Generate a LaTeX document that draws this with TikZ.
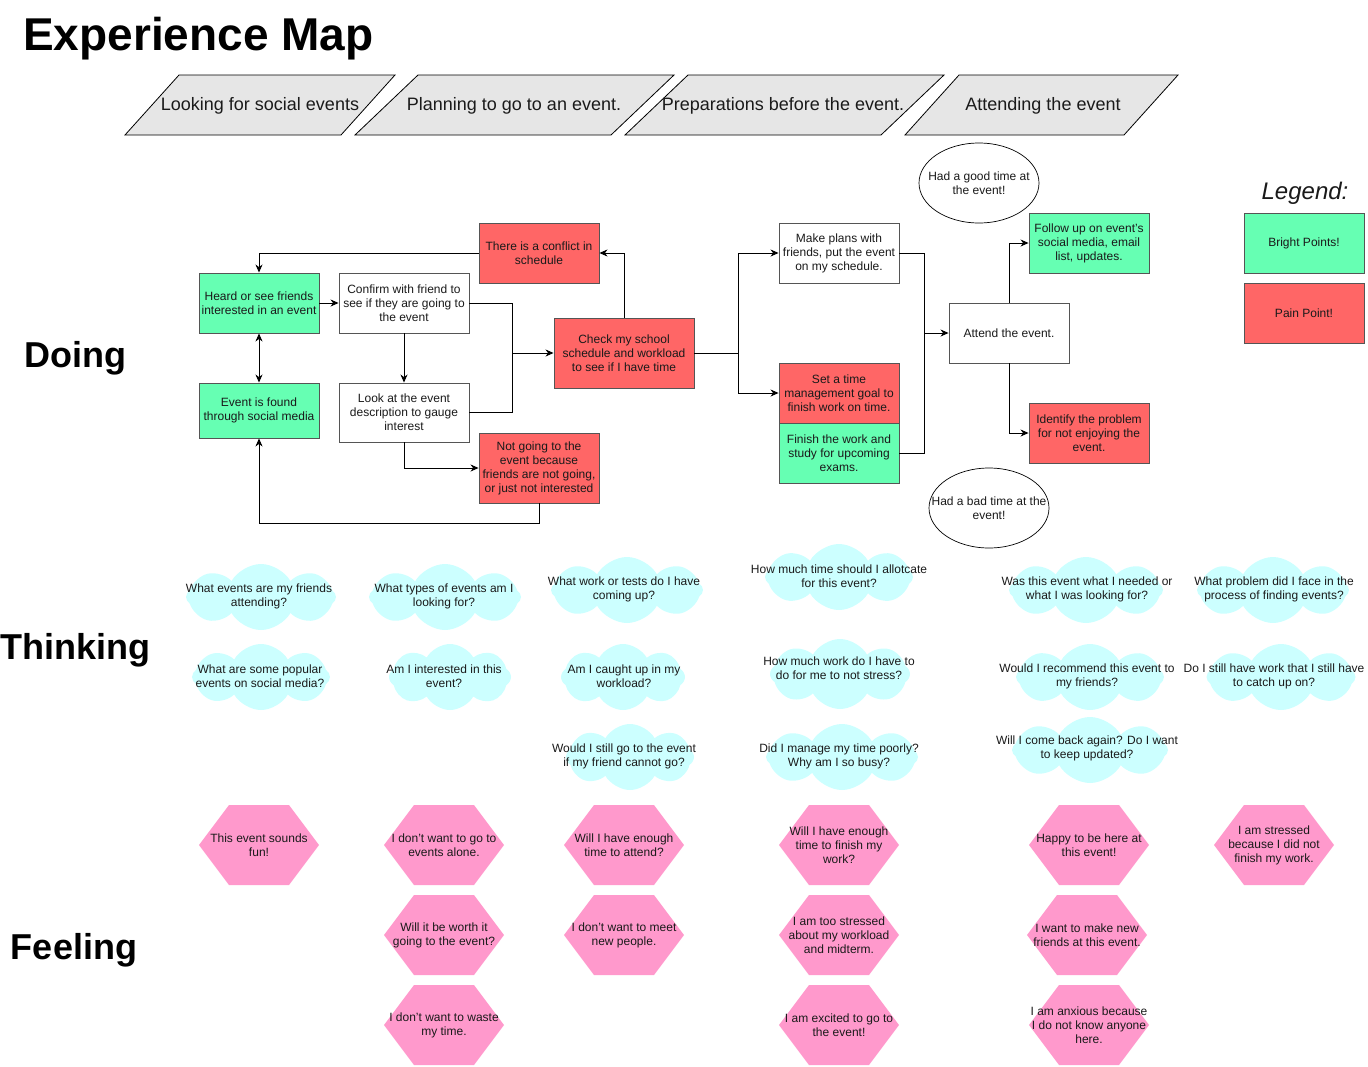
\documentclass[tikz,border=0pt]{standalone}
\usepackage{fontspec}
\setmainfont{Liberation Sans}
\usetikzlibrary{arrows.meta,shapes.geometric,shapes.symbols}
\definecolor{bgreen}{HTML}{66FFB3}
\definecolor{pred}{HTML}{FF6666}
\definecolor{phgray}{HTML}{E6E6E6}
\definecolor{cloudc}{HTML}{CCFFFF}
\definecolor{hexpink}{HTML}{FF99CC}
\definecolor{bord}{HTML}{555555}
\definecolor{txt}{HTML}{1A1A1A}
\tikzset{
  basebox/.style={rectangle, draw=bord, line width=0.9pt, inner sep=1pt, align=center,
    text=txt, font=\fontsize{12}{14}\selectfont, minimum width=120pt, minimum height=60pt},
  boxw/.style={basebox, fill=white},
  boxg/.style={basebox, fill=bgreen},
  boxr/.style={basebox, fill=pred},
  ell/.style={ellipse, draw=black, line width=0.7pt, inner sep=0pt,
    minimum width=120pt, minimum height=80pt},
  plaintext/.style={align=center, text=txt, inner sep=0pt, font=\fontsize{12}{14}\selectfont},
  phase/.style={draw=black, line width=0.8pt, fill=phgray},
  phasetext/.style={font=\fontsize{18}{21}\selectfont, text=txt},
  heading/.style={font=\fontsize{36}{40}\selectfont\bfseries, text=black},
  conn/.style={draw=black, line width=0.9pt, -{Stealth[length=8pt,width=7pt,inset=2.5pt]}},
  connb/.style={draw=black, line width=0.9pt, {Stealth[length=8pt,width=7pt,inset=2.5pt]}-{Stealth[length=8pt,width=7pt,inset=2.5pt]}},
  plain/.style={draw=black, line width=0.9pt},
  thinkcloud/.style={cloud, cloud puffs=8, cloud puff arc=120, cloud ignores aspect,
    fill=cloudc, draw=none, inner sep=0pt},
  feelhex/.style={rectangle, fill=white, inner sep=0pt, align=center, text=txt,
    font=\fontsize{12}{14}\selectfont, minimum width=120pt, minimum height=80pt,
    path picture={\fill[hexpink] (path picture bounding box.west)
      -- ([xshift=30pt]path picture bounding box.north west)
      -- ([xshift=-30pt]path picture bounding box.north east)
      -- (path picture bounding box.east)
      -- ([xshift=-30pt]path picture bounding box.south east)
      -- ([xshift=30pt]path picture bounding box.south west) -- cycle;}}
}
\begin{document}
\begin{tikzpicture}[x=1pt,y=-1pt]
\useasboundingbox (0,0) rectangle (1368,1066);
\fill[white] (0,0) rectangle (1368,1066);

% title
\node[anchor=base west, inner sep=0pt, font=\fontsize{46}{52}\selectfont\bfseries] (title) at (23,50) {Experience Map};

% phases
\draw[phase] (125,135) -- (179,75) -- (395,75) -- (341,135) -- cycle;
\node[phasetext] (p1) at (260,106) {Looking for social events};
\draw[phase] (355,135) -- (418,75) -- (674,75) -- (611,135) -- cycle;
\node[phasetext] (p2) at (514,106) {Planning to go to an event.};
\draw[phase] (625,135) -- (688,75) -- (944,75) -- (881,135) -- cycle;
\node[phasetext] (p3) at (783,106) {Preparations before the event.};
\draw[phase] (905,135) -- (959,75) -- (1178,75) -- (1124,135) -- cycle;
\node[phasetext] (p4) at (1043,106) {Attending the event};

% row headings
\node[heading] (doing) at (75,358) {Doing};
\node[heading] (thinking) at (75,650) {Thinking};
\node[heading] (feeling) at (74,950) {Feeling};

% doing boxes
\node[boxg] (heard) at (259,303) {Heard or see friends\\interested in an event};
\node[boxg, minimum height=55pt] (found) at (259,410.5) {Event is found\\through social media};
\node[boxw, minimum width=130pt] (confirm) at (404,303) {Confirm with friend to\\see if they are going to\\the event};
\node[boxw, minimum width=130pt, minimum height=59pt] (look) at (404,412.5) {Look at the event\\description to gauge\\interest};
\node[boxr] (conflict) at (539,253) {There is a conflict in\\schedule};
\node[boxr, minimum height=70pt] (notgo) at (539,468) {Not going to the\\event because\\friends are not going,\\or just not interested};
\node[boxr, minimum width=140pt, minimum height=70pt] (check) at (624,353) {Check my school\\schedule and workload\\to see if I have time};
\node[boxw] (plans) at (839,253) {Make plans with\\friends, put the event\\on my schedule.};
\node[boxr] (settime) at (839,393) {Set a time\\management goal to\\finish work on time.};
\node[boxg] (finish) at (839,453) {Finish the work and\\study for upcoming\\exams.};
\node[boxw] (attend) at (1009,333) {Attend the event.};
\node[boxg] (follow) at (1089,243) {Follow up on event's\\social media, email\\list, updates.};
\node[boxr] (identify) at (1089,433) {Identify the problem\\for not enjoying the\\event.};
\node[ell] (good) at (979,183) {};
\node[plaintext] (goodt) at (979,183) {Had a good time at\\the event!};
\node[ell] (bad) at (989,508) {};
\node[plaintext] (badt) at (989,508) {Had a bad time at the\\event!};

% legend
\node[font=\fontsize{24}{28}\selectfont\itshape, text=txt] (legend) at (1305,193) {Legend:};
\node[boxg] (lgreen) at (1304,243) {Bright Points!};
\node[boxr] (lred) at (1304,313) {Pain Point!};

% connectors
\coordinate (jA) at (512,353);
\coordinate (jB) at (738,353);
\coordinate (jC) at (924,333);
\draw[conn] (conflict.west) -| (heard.north);
\draw[connb] (heard.south) -- (found.north);
\draw[conn] (heard.east) -- (confirm.west);
\draw[plain] (confirm.east) -| (jA);
\draw[plain] (look.east) -| (jA);
\draw[conn] (jA) -- (check.west);
\draw[conn] (confirm.south) -- (look.north);
\draw[conn] (look.south) |- (notgo.west);
\draw[conn] (notgo.south) -- ++(0,20) -| (found.south);
\draw[conn] (check.north) |- (conflict.east);
\draw[plain] (check.east) -- (jB);
\draw[conn] (jB) |- (plans.west);
\draw[conn] (jB) |- (settime.west);
\draw[plain] (plans.east) -| (jC);
\draw[plain] (finish.east) -| (jC);
\draw[conn] (jC) -- (attend.west);
\draw[conn] (attend.north) |- (follow.west);
\draw[conn] (attend.south) |- (identify.west);

% thinking clouds (shapes)
\node[thinkcloud, minimum width=150pt, minimum height=66pt] (c1) at (261,597) {};
\node[thinkcloud, minimum width=152pt, minimum height=66pt] (c2) at (445,597) {};
\node[thinkcloud, minimum width=152pt, minimum height=66pt] (c3) at (627,590) {};
\node[thinkcloud, minimum width=148pt, minimum height=66pt] (c4) at (839,577) {};
\node[thinkcloud, minimum width=154pt, minimum height=66pt] (c5) at (1086,590) {};
\node[thinkcloud, minimum width=152pt, minimum height=66pt] (c6) at (1273,590) {};
\node[thinkcloud, minimum width=138pt, minimum height=66pt] (c7) at (261,677) {};
\node[thinkcloud, minimum width=122pt, minimum height=66pt] (c8) at (450,677) {};
\node[thinkcloud, minimum width=124pt, minimum height=66pt] (c9) at (623,677) {};
\node[thinkcloud, minimum width=140pt, minimum height=70pt] (c10) at (840,674) {};
\node[thinkcloud, minimum width=148pt, minimum height=66pt] (c11) at (1090,677) {};
\node[thinkcloud, minimum width=149pt, minimum height=66pt] (c12) at (1281,677) {};
\node[thinkcloud, minimum width=128pt, minimum height=66pt] (c13) at (630,757) {};
\node[thinkcloud, minimum width=152pt, minimum height=66pt] (c14) at (842,757) {};
\node[thinkcloud, minimum width=156pt, minimum height=66pt] (c15) at (1090,750) {};

% thinking texts
\node[plaintext] (t1) at (259,596) {What events are my friends\\attending?};
\node[plaintext] (t2) at (444,596) {What types of events am I\\looking for?};
\node[plaintext] (t3) at (624,589) {What work or tests do I have\\coming up?};
\node[plaintext] (t4) at (839,576) {How much time should I allotcate\\for this event?};
\node[plaintext] (t5) at (1087,589) {Was this event what I needed or\\what I was looking for?};
\node[plaintext] (t6) at (1274,589) {What problem did I face in the\\process of finding events?};
\node[plaintext] (t7) at (260,676) {What are some popular\\events on social media?};
\node[plaintext] (t8) at (444,676) {Am I interested in this\\event?};
\node[plaintext] (t9) at (624,676) {Am I caught up in my\\workload?};
\node[plaintext] (t10) at (839,668) {How much work do I have to\\do for me to not stress?};
\node[plaintext] (t11) at (1087,676) {Would I recommend this event to\\my friends?};
\node[plaintext] (t12) at (1274,676) {Do I still have work that I still have\\to catch up on?};
\node[plaintext] (t13) at (624,756) {Would I still go to the event\\if my friend cannot go?};
\node[plaintext] (t14) at (839,756) {Did I manage my time poorly?\\Why am I so busy?};
\node[plaintext] (t15) at (1087,748) {Will I come back again? Do I want\\to keep updated?};

% feeling hexagons
\node[feelhex] (h1) at (259,845) {This event sounds\\fun!};
\node[feelhex] (h2) at (444,845) {I don't want to go to\\events alone.};
\node[feelhex] (h3) at (624,845) {Will I have enough\\time to attend?};
\node[feelhex] (h4) at (444,935) {Will it be worth it\\going to the event?};
\node[feelhex] (h5) at (624,935) {I don't want to meet\\new people.};
\node[feelhex] (h6) at (444,1025) {I don't want to waste\\my time.};
\node[feelhex] (h7) at (839,845) {Will I have enough\\time to finish my\\work?};
\node[feelhex] (h8) at (1089,845) {Happy to be here at\\this event!};
\node[feelhex] (h9) at (1274,845) {I am stressed\\because I did not\\finish my work.};
\node[feelhex] (h10) at (839,935) {I am too stressed\\about my workload\\and midterm.};
\node[feelhex] (h11) at (1087,935) {I want to make new\\friends at this event.};
\node[feelhex] (h12) at (839,1025) {I am excited to go to\\the event!};
\node[feelhex] (h13) at (1089,1025) {I am anxious because\\I do not know anyone\\here.};
\end{tikzpicture}
\end{document}
